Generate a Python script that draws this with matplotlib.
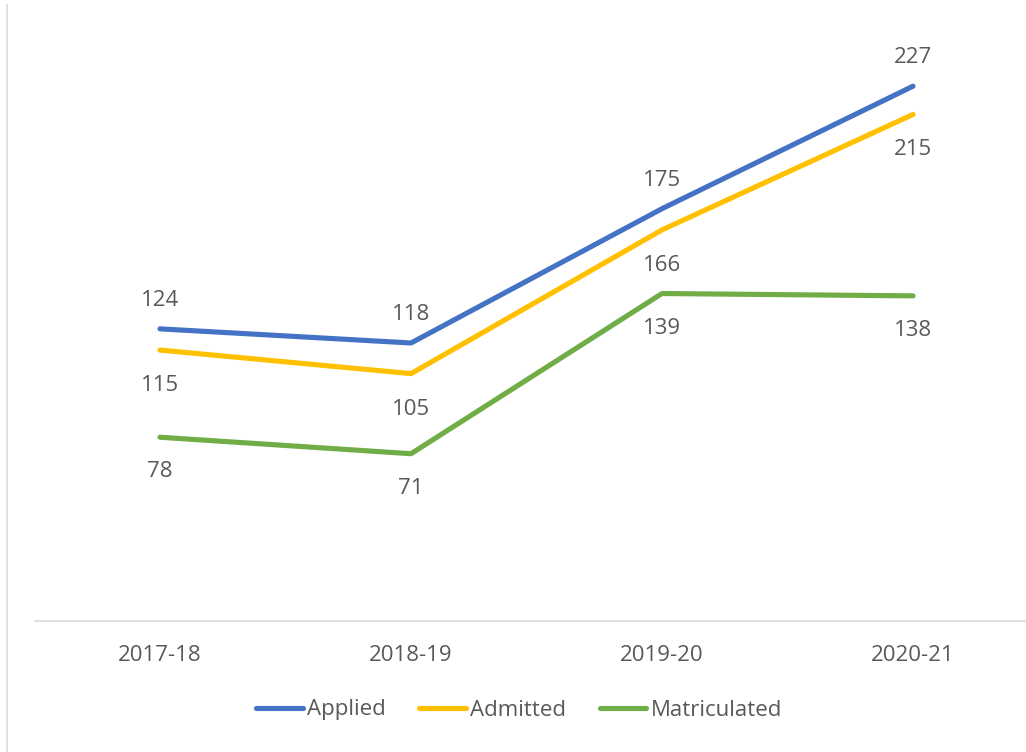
import matplotlib
matplotlib.use("Agg")
import matplotlib.pyplot as plt
from matplotlib.lines import Line2D

years = ["2017-18", "2018-19", "2019-20", "2020-21"]
applied = [124, 118, 175, 227]
admitted = [115, 105, 166, 215]
matriculated = [78, 71, 139, 138]

series_names = ["Applied", "Admitted", "Matriculated"]
series_colors = ["#4472C4", "#FFC000", "#70AD47"]
# label placement: pixel offset from the point (negative = below)
label_offsets = [31, -33, -32]

plt.rcParams["font.family"] = ["Open Sans", "DejaVu Sans"]
text_color = "#595959"
fs = 16

W, H = 1026, 752
fig = plt.figure(figsize=(W / 100, H / 100), dpi=100)
ax_left, ax_right = 34.5 / W, 1.0
ax_bottom, ax_top = 1 - 621 / H, 1 - 32 / H
ax = fig.add_axes([ax_left, ax_bottom, ax_right - ax_left, ax_top - ax_bottom])

x = list(range(len(years)))
handles = []
for vals, name, color, off in zip([applied, admitted, matriculated],
                                  series_names, series_colors, label_offsets):
    ln, = ax.plot(x, vals, color=color, lw=3.7, solid_capstyle="round",
                  solid_joinstyle="round", label=name, zorder=3)
    handles.append(ln)
    for xi, v in zip(x, vals):
        ax.annotate(str(v), (xi, v), xytext=(0, off), textcoords="offset pixels",
                    ha="center", va="center_baseline", fontsize=fs, color=text_color)

ax.set_xlim(-0.5, -0.5 + (W - 34.5) / 251)
ax.set_ylim(0, 250)
ax.set_xticks(x)
ax.set_xticklabels(years, fontsize=fs, color=text_color)
ax.tick_params(axis="x", length=0, pad=17)
ax.set_yticks([])
for side in ["top", "right", "left"]:
    ax.spines[side].set_visible(False)
ax.spines["bottom"].set_color("#D9D9D9")
ax.spines["bottom"].set_linewidth(1.2)

leg = fig.legend(handles=handles, loc="center", bbox_to_anchor=(519 / W, 1 - 710 / H),
                 ncol=3, frameon=False, fontsize=fs, handlelength=2.1,
                 handletextpad=0.2, columnspacing=1.5)
for t in leg.get_texts():
    t.set_color(text_color)

# chart frame edge on the left
fig.add_artist(Line2D([6.5 / W, 6.5 / W], [0, 1 - 5 / H], transform=fig.transFigure,
                      color="#D9D9D9", lw=1.2))

fig.savefig("out.png", dpi=100, facecolor="white")
